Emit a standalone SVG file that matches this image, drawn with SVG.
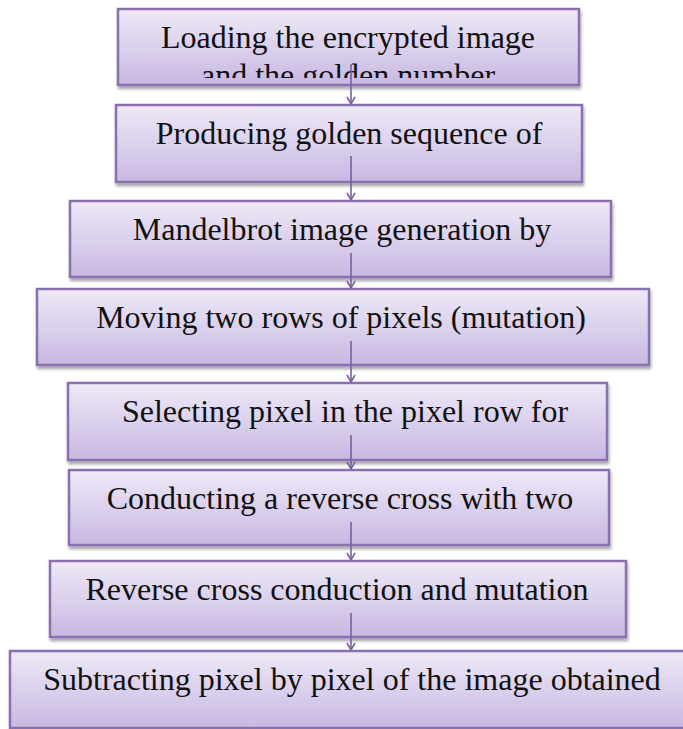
<svg xmlns="http://www.w3.org/2000/svg" width="683" height="729" viewBox="0 0 683 729">
<style>
.box{fill:url(#g);stroke:#8a70ae;stroke-width:2.5;filter:url(#sh)}
.t{font-family:"Liberation Serif","Times New Roman",serif;font-size:32px;fill:#111;text-anchor:middle}
.c{stroke:#7a5e9e;stroke-width:1.6;fill:none}
</style>
<defs>
<linearGradient id="g" x1="0" y1="0" x2="0" y2="1">
<stop offset="0" stop-color="#eee9f7"/>
<stop offset="1" stop-color="#c8b8e2"/>
</linearGradient>
<filter id="sh" x="-5%" y="-10%" width="110%" height="130%">
<feDropShadow dx="1" dy="3" stdDeviation="1.5" flood-color="#000" flood-opacity="0.35"/>
</filter>
<marker id="ah" markerWidth="10" markerHeight="10" refX="8" refY="5" orient="auto" markerUnits="userSpaceOnUse">
<path d="M1,1 L8,5 L1,9" fill="none" stroke="#7a5e9e" stroke-width="1.6"/>
</marker>
<clipPath id="cl1"><rect x="118" y="9" width="461" height="69"/></clipPath>
</defs>
<g id="n1"><rect class="box" x="118" y="9" width="461" height="76"/><text class="t" x="348" y="48">Loading the encrypted image</text><text class="t" x="348" y="86" clip-path="url(#cl1)">and the golden number</text></g>
<g id="n2"><rect class="box" x="116" y="105" width="466" height="77"/><text class="t" x="349" y="144">Producing golden sequence of</text></g>
<g id="n3"><rect class="box" x="70" y="201" width="541" height="76"/><text class="t" x="342" y="240">Mandelbrot image generation by</text></g>
<g id="n4"><rect class="box" x="37" y="289" width="612" height="76"/><text class="t" x="341" y="328">Moving two rows of pixels (mutation)</text></g>
<g id="n5"><rect class="box" x="68" y="383" width="539" height="77"/><text class="t" x="345" y="422">Selecting pixel in the pixel row for</text></g>
<g id="n6"><rect class="box" x="69" y="470" width="540" height="75"/><text class="t" x="340" y="509">Conducting a reverse cross with two</text></g>
<g id="n7"><rect class="box" x="50" y="561" width="576" height="76"/><text class="t" x="337" y="600">Reverse cross conduction and mutation</text></g>
<g id="n8"><rect class="box" x="10" y="651" width="680" height="77"/><text class="t" x="352" y="690">Subtracting pixel by pixel of the image obtained</text></g>
<g id="connectors">
<line class="c" x1="351" y1="64" x2="351" y2="104" marker-end="url(#ah)"/>
<line class="c" x1="351" y1="156" x2="351" y2="200" marker-end="url(#ah)"/>
<line class="c" x1="351" y1="253" x2="351" y2="288" marker-end="url(#ah)"/>
<line class="c" x1="351" y1="341" x2="351" y2="382" marker-end="url(#ah)"/>
<line class="c" x1="351" y1="435" x2="351" y2="469" marker-end="url(#ah)"/>
<line class="c" x1="351" y1="522" x2="351" y2="560" marker-end="url(#ah)"/>
<line class="c" x1="351" y1="613" x2="351" y2="650" marker-end="url(#ah)"/>
</g>
</svg>
